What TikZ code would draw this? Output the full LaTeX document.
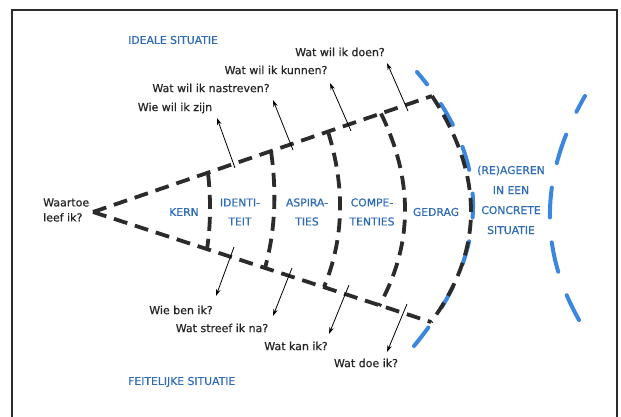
\documentclass[tikz,border=0pt]{standalone}
\usepackage{fontspec}
\setmainfont{DejaVu Sans}[FakeBold=0.7]
\usetikzlibrary{arrows.meta}
\definecolor{bluetxt}{HTML}{2F6CB8}
\definecolor{bluedash}{HTML}{3B86DF}
\definecolor{darkline}{HTML}{2B2B2B}
\begin{document}
\begin{tikzpicture}[x=1pt,y=-1pt,
  frame/.style={draw=darkline, line width=1.3pt},
  dashline/.style={draw=darkline, line width=3.8pt, dash pattern=on 14pt off 8pt},
  bluearc/.style={draw=bluedash, line width=4pt, line cap=round},
  qarrow/.style={draw=black, line width=0.8pt, -{Stealth[length=7pt,width=4.5pt]}},
  qtext/.style={font=\fontsize{11}{14}\selectfont, text=black!85, inner sep=0pt, align=left},
  bluetext/.style={font=\fontsize{10.8}{19}\selectfont, text=bluetxt, inner sep=0pt, align=center}]
\useasboundingbox (0,0) rectangle (621,417);
\begin{scope}
\clip (0,0) rectangle (621,417);
\draw[frame] (12,10) rectangle (617,430);
\end{scope}

% key points
\coordinate (A) at (93,212);
\coordinate (U1) at (208,173);   \coordinate (L1) at (207,249);
\coordinate (U2) at (271,151);   \coordinate (L2) at (265,268);
\coordinate (U3) at (328,131.6); \coordinate (L3) at (324,287);
\coordinate (U4) at (381,113.5); \coordinate (L4) at (379,306);
\coordinate (U5) at (432,96);    \coordinate (L5) at (431,322);

% blue arcs
\draw[bluearc, dash pattern=on 24pt off 24pt, dash phase=8pt]
  (417,72) .. controls (492.7,160.7) and (491.7,252) .. (414,346);
\draw[bluearc, dash pattern=on 30pt off 25pt, dash phase=12pt]
  (585,96) .. controls (540.3,173.3) and (538.3,248) .. (579,320);

% black dashed sector
\draw[dashline] (A) -- (U5);
\draw[dashline] (A) -- (L5);
\draw[dashline] (U1) .. controls (211,199.7) and (210.7,225) .. (L1);
\draw[dashline] (U2) .. controls (277,193) and (275,232) .. (L2);
\draw[dashline] (U3) .. controls (345.3,187.2) and (344,239) .. (L3);
\draw[dashline] (U4) .. controls (413.7,180.8) and (413,245) .. (L4);
\draw[dashline] (U5) .. controls (484.3,175.3) and (484,250.7) .. (L5);

% texts
\node[bluetext, anchor=west] (ideal) at (128,40) {IDEALE SITUATIE};
\node[bluetext, anchor=west] (feit) at (128,382) {FEITELIJKE SITUATIE};

\node[qtext] (q1) at (175,108) {Wie wil ik zijn};
\node[qtext] (q2) at (211,88) {Wat wil ik nastreven?};
\node[qtext] (q3) at (276,70) {Wat wil ik kunnen?};
\node[qtext] (q4) at (340,52) {Wat wil ik doen?};

\node[qtext] (b1) at (181,310) {Wie ben ik?};
\node[qtext] (b2) at (222,328) {Wat streef ik na?};
\node[qtext] (b3) at (296,346) {Wat kan ik?};
\node[qtext] (b4) at (366,363) {Wat doe ik?};

\node[qtext, anchor=west, font=\fontsize{11}{15}\selectfont] (waartoe) at (43,210) {Waartoe\\leef ik?};

\node[bluetext] (kern) at (184,212) {KERN};
\node[bluetext] (ident) at (240,212) {IDENTI-\\TEIT};
\node[bluetext] (aspir) at (307,212) {ASPIRA-\\TIES};
\node[bluetext] (compe) at (372,212) {COMPE-\\TENTIES};
\node[bluetext] (gedrag) at (436,212) {GEDRAG};
\node[bluetext, font=\fontsize{10.8}{20}\selectfont] (reag) at (511,200) {(RE)AGEREN\\IN EEN\\CONCRETE\\SITUATIE};

% arrows
\coordinate (ta1) at (235,168); \coordinate (ha1) at (217,118);
\coordinate (ta2) at (293,150); \coordinate (ha2) at (273,100);
\coordinate (ta3) at (351,131); \coordinate (ha3) at (330,83);
\coordinate (ta4) at (408,111); \coordinate (ha4) at (387,63);
\coordinate (tb1) at (234,247); \coordinate (hb1) at (216,296);
\coordinate (tb2) at (292,268); \coordinate (hb2) at (273,316);
\coordinate (tb3) at (349,285); \coordinate (hb3) at (329,334);
\coordinate (tb4) at (407,304); \coordinate (hb4) at (387,352);
\foreach \i in {1,...,4} {
  \draw[qarrow] (ta\i) -- (ha\i);
  \draw[qarrow] (tb\i) -- (hb\i);
}
\end{tikzpicture}
\end{document}
